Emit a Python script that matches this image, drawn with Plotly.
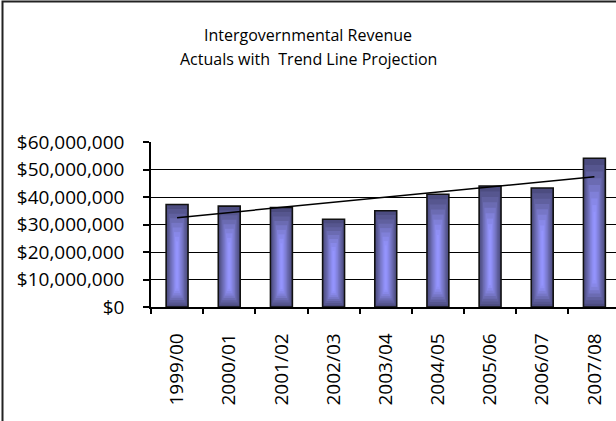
import numpy as np
import plotly.graph_objects as go

# fiscal years and revenue actuals
years = ['1999/00', '2000/01', '2001/02', '2002/03', '2003/04',
         '2004/05', '2005/06', '2006/07', '2007/08']
revenue = [37300000, 36700000, 36200000, 31900000, 35000000,
           41000000, 44000000, 43300000, 54100000]
y_ticks = [0, 10000000, 20000000, 30000000, 40000000, 50000000, 60000000]
y_labels = ['$0', '$10,000,000', '$20,000,000', '$30,000,000',
            '$40,000,000', '$50,000,000', '$60,000,000']

# linear trend line through the actuals
k, b = np.polyfit(np.arange(len(revenue)), revenue, 1)
trend = [k * i + b for i in range(len(revenue))]

# plot area in pixels: x 151..616, y 142..307
L, T, B, W, H = 151, 142, 114, 616, 421
pw, ph = W - L, H - T - B

fig = go.Figure()

# bars: outer dark bar with outline, then narrower lighter bars on top
# to fake the cylinder shading
shades = ['#4c4c80', '#56568f', '#60609f', '#6b6bb2', '#7676c6',
          '#8080d8', '#8888e8', '#8f8ff4', '#9494fc']
widths = [0.42, 0.37, 0.32, 0.27, 0.22, 0.17, 0.12, 0.08, 0.04]
for i, (c, w) in enumerate(zip(shades, widths)):
    # inner layers stop a little short of top and bottom
    f = 0.045 * i
    fig.add_trace(go.Bar(
        x=years,
        y=[v * (1 - f) - v * f * 0.5 for v in revenue] if i else revenue,
        base=[v * f * 0.5 for v in revenue] if i else None,
        width=w,
        marker=dict(color=c,
                    line=dict(color='#111111', width=1.6 if i == 0 else 0)),
        hoverinfo='skip',
    ))

fig.add_trace(go.Scatter(
    x=years, y=trend, mode='lines',
    line=dict(color='black', width=1.5),
    hoverinfo='skip',
))

font = '"Open Sans", Lato, sans-serif'

fig.update_layout(
    width=W, height=H,
    margin=dict(l=L, r=0, t=T, b=B),
    paper_bgcolor='white', plot_bgcolor='white',
    barmode='overlay',
    showlegend=False,
    font=dict(family=font, color='black', size=16),
    xaxis=dict(
        type='category', range=[-0.5, 8.414],
        tickson='boundaries', ticks='outside', ticklen=5,
        tickcolor='black', tickwidth=1.5,
        showline=True, linecolor='black', linewidth=1.5,
        showgrid=False, tickangle=-90,
        tickfont=dict(size=19), ticklabelstandoff=17,
    ),
    yaxis=dict(
        range=[0, 60000000], tickmode='array',
        tickvals=y_ticks, ticktext=y_labels,
        showgrid=True, gridcolor='black', gridwidth=1,
        zeroline=False,
        showline=True, linecolor='black', linewidth=1.5,
        ticks='outside', ticklen=6, tickcolor='black', tickwidth=1.5,
        tickfont=dict(size=19), ticklabelstandoff=15,
    ),
    shapes=[dict(
        type='rect', xref='paper', yref='paper',
        x0=(2.5 - L) / pw, x1=1.2,
        y0=-1.2, y1=(307 - 1.5) / ph,
        line=dict(color='#222222', width=2),
    )],
    annotations=[
        dict(text='Intergovernmental Revenue', xref='paper', yref='paper',
             x=(308 - L) / pw, y=(307 - 35) / ph,
             xanchor='center', yanchor='middle', showarrow=False,
             font=dict(size=16)),
        dict(text='Actuals with&nbsp; Trend Line Projection',
             xref='paper', yref='paper',
             x=(308 - L) / pw, y=(307 - 59) / ph,
             xanchor='center', yanchor='middle', showarrow=False,
             font=dict(size=16)),
    ],
)

# page body has an 8px default margin; drop it so the chart sits at 0,0
fig.write_html("out.html", config={'displayModeBar': False},
               post_script="document.body.style.margin='0';")
